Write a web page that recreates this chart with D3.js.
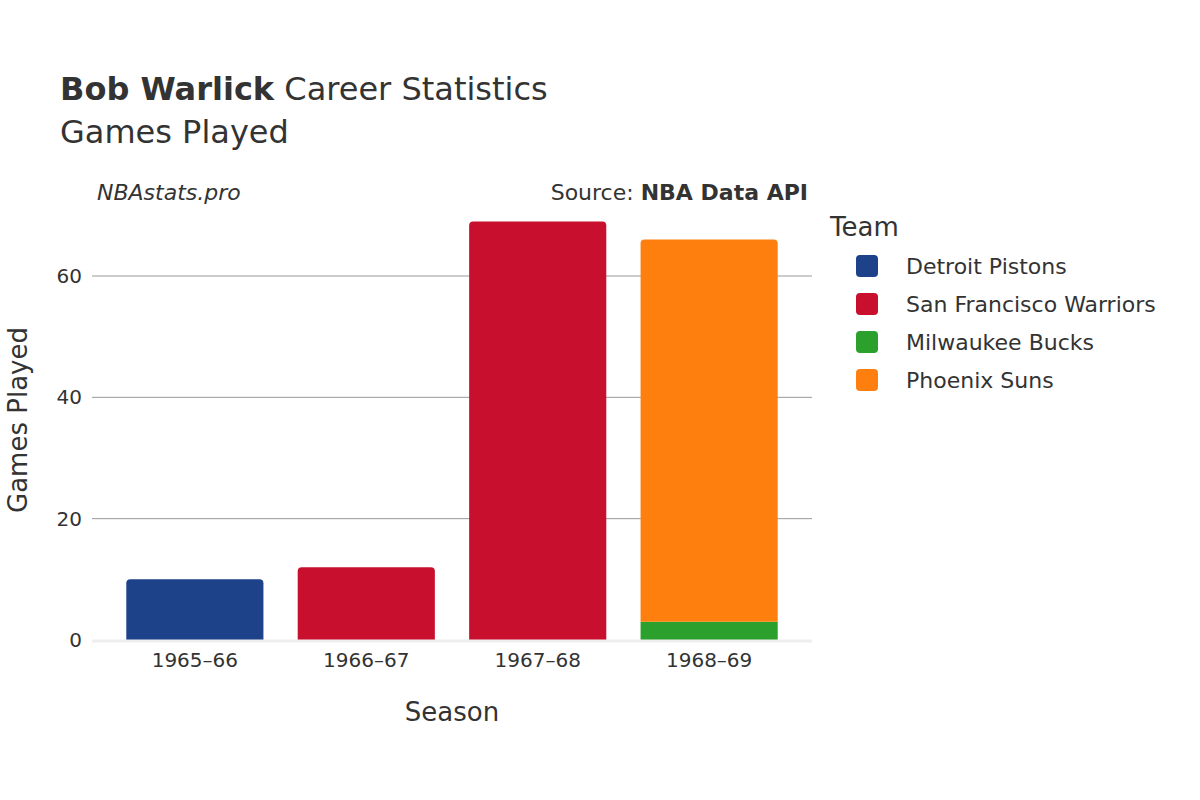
<!DOCTYPE html>
<html><head><meta charset="utf-8">
<script src="https://d3js.org/d3.v7.min.js"></script>
<style>body{margin:0;background:#fff}text{font-family:"DejaVu Sans",sans-serif;fill:#333}</style>
</head><body><svg id="c" width="1200" height="800"></svg>
<script>
const seasons=["1965–66","1966–67","1967–68","1968–69"];
const teams=["Detroit Pistons","San Francisco Warriors","Milwaukee Bucks","Phoenix Suns"];
const colors=["#1d428a","#c8102e","#2ca02c","#ff7f0e"];
const detroit=[10,0,0,0];
const warriors=[0,12,69,0];
const bucks=[0,0,0,3];
const suns=[0,0,0,63];
const yTicks=[0,20,40,60];
const series=[detroit,warriors,bucks,suns];

const svg=d3.select("#c");
const x=d3.scaleBand().domain(seasons).range([92,812]).padding(0.2);
const y=d3.scaleLinear().domain([0,60]).range([640,276]);

svg.append("g").selectAll("line").data(yTicks.filter(d=>d>0)).join("line")
 .attr("x1",92).attr("x2",812).attr("y1",d=>y(d)).attr("y2",d=>y(d)).attr("stroke","#999").attr("stroke-width",1);

seasons.forEach((s,i)=>{
  let base=0;
  series.forEach((ser,k)=>{
    const v=ser[i]; if(!v) return;
    const top=base+v;
    const isTop=series.slice(k+1).every(o=>!o[i]);
    const x0=x(s),w=x.bandwidth(),y0=y(base),y1=y(top),r=isTop?4:0;
    svg.append("path").attr("fill",colors[k])
      .attr("d",`M${x0},${y0}V${y1+r}Q${x0},${y1} ${x0+r},${y1}H${x0+w-r}Q${x0+w},${y1} ${x0+w},${y1+r}V${y0}Z`);
    base=top;
  });
});
svg.append("line").attr("x1",92).attr("x2",812).attr("y1",y(0)+1).attr("y2",y(0)+1).attr("stroke","#eee").attr("stroke-width",3);

svg.append("g").selectAll("text").data(yTicks).join("text")
 .attr("x",82).attr("y",d=>y(d)+7).attr("text-anchor","end").attr("font-size",20).text(d=>d);
svg.append("g").selectAll("text").data(seasons).join("text")
 .attr("x",d=>x(d)+x.bandwidth()/2).attr("y",667).attr("text-anchor","middle").attr("font-size",20).text(d=>d);

const t=svg.append("text").attr("x",60).attr("y",100).attr("font-size",32);
t.append("tspan").attr("font-weight","bold").text("Bob Warlick");
t.append("tspan").text(" Career Statistics");
svg.append("text").attr("x",60).attr("y",143).attr("font-size",32).text("Games Played");
svg.append("text").attr("x",97).attr("y",200).attr("font-size",22).attr("font-style","italic").text("NBAstats.pro");
const src=svg.append("text").attr("x",808).attr("y",200).attr("font-size",22).attr("text-anchor","end");
src.append("tspan").text("Source: ");src.append("tspan").attr("font-weight","bold").text("NBA Data API");

svg.append("text").attr("x",452).attr("y",721).attr("font-size",26).attr("text-anchor","middle").text("Season");
svg.append("text").attr("transform","translate(27,420) rotate(-90)").attr("font-size",26).attr("text-anchor","middle").text("Games Played");

svg.append("text").attr("x",830).attr("y",236).attr("font-size",26).text("Team");
teams.forEach((tm,i)=>{
  svg.append("rect").attr("x",856).attr("y",255+i*38).attr("width",22).attr("height",22).attr("rx",4).attr("fill",colors[i]);
  svg.append("text").attr("x",906).attr("y",274+i*38).attr("font-size",22).text(tm);
});
</script></body></html>
